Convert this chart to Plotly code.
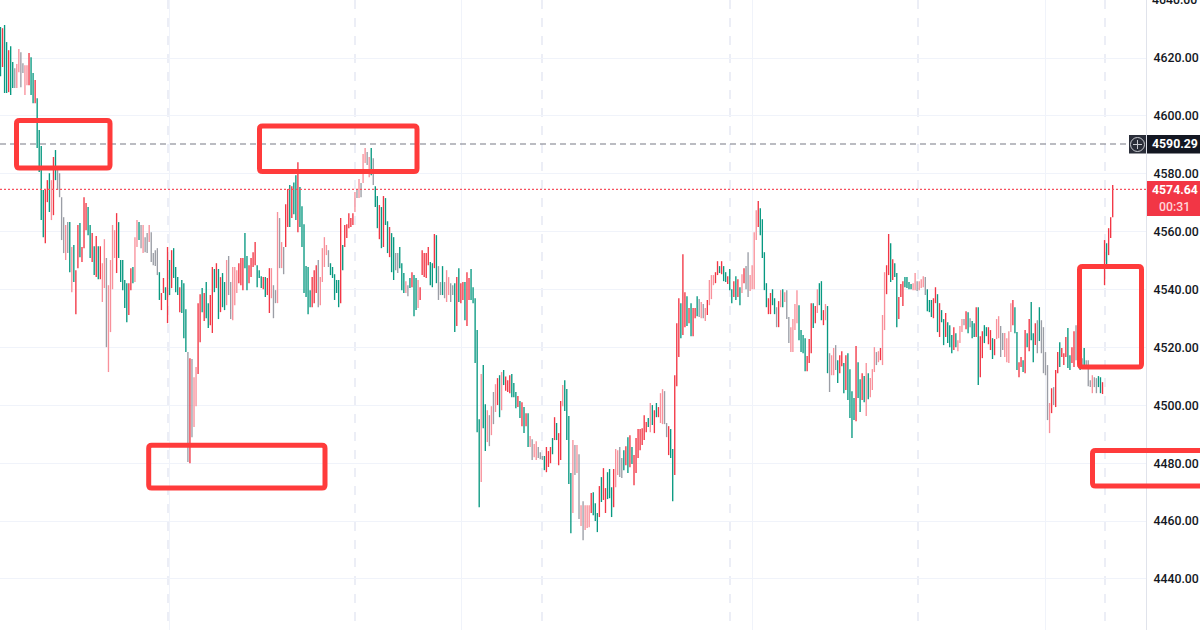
import plotly.graph_objects as go

# bar highs / lows, left to right, ten bars a line
highs = [
    4630.7, 4630.3, 4631.4, 4625.5, 4622.7, 4624.1, 4618.6, 4616.5, 4617.9, 4623.1,
    4622.0, 4618.2, 4617.5, 4617.5, 4621.7, 4620.3, 4614.8, 4612.4, 4606.1, 4595.1,
    4589.6, 4574.4, 4574.4, 4577.8, 4580.2, 4577.8, 4585.8, 4588.2, 4581.3, 4580.2,
    4571.9, 4565.0, 4562.3, 4563.3, 4563.3, 4554.7, 4555.4, 4546.7, 4562.3, 4563.0,
    4554.7, 4571.9, 4569.9, 4568.5, 4562.3, 4559.5, 4555.0, 4558.5, 4555.0, 4555.0,
    4549.1, 4557.4, 4550.9, 4541.5, 4550.2, 4562.3, 4560.5, 4566.4, 4563.3, 4550.2,
    4550.2, 4543.3, 4542.2, 4542.2, 4547.4, 4547.8, 4558.1, 4564.0, 4563.3, 4562.3,
    4562.3, 4558.1, 4559.5, 4562.3, 4559.8, 4552.6, 4553.6, 4554.3, 4546.0, 4538.8,
    4544.0, 4540.8, 4554.7, 4550.2, 4553.6, 4554.3, 4547.8, 4544.3, 4540.8, 4543.3,
    4542.2, 4533.2, 4518.4, 4516.3, 4516.0, 4509.7, 4513.2, 4535.3, 4538.4, 4540.5,
    4538.8, 4542.6, 4535.3, 4538.1, 4547.8, 4547.1, 4549.1, 4547.1, 4544.3, 4545.7,
    4542.6, 4550.2, 4551.6, 4542.6, 4547.8, 4547.8, 4546.7, 4549.1, 4550.9, 4550.9,
    4559.5, 4551.6, 4548.4, 4550.9, 4552.9, 4556.4, 4548.4, 4546.7, 4544.6, 4544.3,
    4544.3, 4544.0, 4547.4, 4547.4, 4541.5, 4539.8, 4566.8, 4564.7, 4556.4, 4554.7,
    4569.5, 4574.7, 4576.1, 4575.7, 4577.0, 4579.5, 4584.0, 4575.4, 4568.8, 4562.6, 4548.1,
    4547.8, 4539.8, 4544.3, 4546.7, 4548.4, 4550.2, 4544.3, 4554.3, 4558.1, 4555.4,
    4553.6, 4549.1, 4547.8, 4545.3, 4543.3, 4543.3, 4564.7, 4555.4, 4562.3, 4562.6,
    4566.4, 4564.7, 4566.4, 4573.7, 4574.4, 4578.2, 4576.8, 4586.8, 4588.9, 4587.5,
    4585.8, 4588.9, 4585.4, 4575.7, 4572.3, 4569.2, 4568.5, 4572.3, 4571.6, 4563.6,
    4561.6, 4559.5, 4558.1, 4552.6, 4552.6, 4554.7, 4549.1, 4545.7, 4542.9, 4541.5,
    4544.0, 4546.0, 4545.0, 4544.0, 4543.3, 4540.8, 4553.6, 4552.6, 4552.6, 4554.7,
    4549.5, 4549.1, 4559.2, 4558.8, 4548.1, 4542.6, 4548.1, 4542.6, 4546.7, 4544.3,
    4542.2, 4541.5, 4542.2, 4544.3, 4547.4, 4542.2, 4542.6, 4542.6, 4546.0, 4544.0,
    4547.1, 4540.8, 4537.0, 4526.0, 4495.2, 4510.8, 4513.9, 4500.4, 4498.3, 4496.6,
    4499.7, 4504.6, 4507.3, 4509.4, 4510.4, 4511.5, 4512.2, 4510.0, 4508.7, 4510.4, 4510.8,
    4507.7, 4504.6, 4503.2, 4501.5, 4501.1, 4499.4, 4497.3, 4497.3, 4489.4, 4488.3,
    4486.6, 4487.6, 4485.6, 4483.8, 4482.5, 4482.5, 4485.6, 4484.2, 4485.6, 4488.7,
    4495.9, 4493.9, 4490.4, 4501.5, 4507.0, 4508.7, 4505.6, 4496.3, 4476.6, 4488.0,
    4486.3, 4486.3, 4483.1, 4465.5, 4466.9, 4465.5, 4465.5, 4465.5, 4469.7, 4470.0,
    4466.2, 4462.8, 4472.1, 4475.2, 4478.3, 4471.4, 4476.9, 4478.0, 4471.7, 4478.0,
    4484.9, 4484.5, 4485.6, 4481.8, 4484.5, 4485.9, 4489.0, 4489.7, 4485.6, 4482.8,
    4488.7, 4491.8, 4491.8, 4492.1, 4496.6, 4494.2, 4495.6, 4500.8, 4500.1, 4498.3,
    4500.8, 4499.4, 4504.2, 4505.6, 4504.9, 4493.9, 4492.8, 4491.8, 4484.9, 4510.4,
    4528.4, 4537.0, 4535.3, 4552.2, 4539.1, 4537.7, 4533.6, 4535.3, 4533.6, 4533.6,
    4537.7, 4536.7, 4535.7, 4535.0, 4533.6, 4536.4, 4543.3, 4545.0, 4545.0, 4546.0,
    4549.8, 4548.1, 4549.8, 4548.1, 4546.0, 4544.6, 4547.1, 4540.1, 4542.9, 4544.6,
    4543.6, 4540.8, 4545.3, 4547.4, 4548.1, 4552.9, 4545.0, 4548.4, 4559.8, 4567.4,
    4570.6, 4568.1, 4564.3, 4552.9, 4542.2, 4537.0, 4538.8, 4540.1, 4537.0, 4533.9,
    4536.0, 4539.8, 4540.1, 4539.1, 4539.8, 4530.5, 4527.0, 4529.8, 4535.0, 4539.8,
    4534.6, 4526.0, 4524.3, 4523.2, 4517.0, 4522.9, 4535.3, 4535.3, 4534.3, 4540.1,
    4542.2, 4542.9, 4532.9, 4535.0, 4534.3, 4518.0, 4517.3, 4519.8, 4520.8, 4515.6,
    4517.3, 4518.7, 4514.6, 4517.3, 4518.0, 4512.5, 4504.9, 4502.5, 4520.5, 4514.9,
    4509.0, 4511.1, 4510.1, 4514.6, 4511.1, 4509.4, 4512.5, 4520.1, 4518.4, 4518.7,
    4519.8, 4531.2, 4546.0, 4548.4, 4559.2, 4556.0, 4550.5, 4549.1, 4545.7, 4537.4,
    4541.9, 4542.9, 4544.3, 4544.3, 4542.6, 4541.9, 4542.2, 4545.7, 4542.9, 4542.9,
    4543.6, 4544.6, 4544.3, 4540.1, 4536.4, 4536.4, 4537.0, 4540.8, 4538.4, 4535.3,
    4532.9, 4529.8, 4531.9, 4528.7, 4527.7, 4524.3, 4527.0, 4524.9, 4522.5, 4527.4,
    4529.8, 4529.8, 4532.5, 4532.2, 4530.1, 4529.1, 4528.4, 4533.9, 4533.9, 4523.9,
    4525.6, 4527.7, 4527.0, 4527.0, 4526.0, 4523.2, 4522.9, 4529.8, 4530.8, 4527.4,
    4525.0, 4525.0, 4523.2, 4525.6, 4535.3, 4536.4, 4533.9, 4525.3, 4514.9, 4516.7,
    4515.6, 4526.0, 4524.9, 4529.8, 4535.7, 4524.9, 4528.4, 4529.4, 4533.9, 4529.4,
    4527.0, 4518.4, 4513.9, 4500.8, 4505.9, 4506.3, 4512.2, 4518.4, 4521.8, 4519.8,
    4518.0, 4523.6, 4526.7, 4517.3, 4520.1, 4525.6, 4527.7, 4522.5, 4519.4, 4516.3,
    4519.8, 4515.6, 4515.6, 4508.7, 4510.4, 4509.7, 4509.4, 4510.1, 4509.7, 4508.0,
    4557.1, 4556.0, 4561.2, 4565.0, 4576.1,
]
lows = [
    4613.7, 4616.9, 4607.9, 4607.9, 4608.2, 4607.2, 4609.6, 4609.6, 4609.6, 4615.1,
    4609.9, 4614.8, 4607.2, 4610.6, 4610.6, 4607.2, 4604.4, 4604.4, 4588.9, 4580.6,
    4564.0, 4558.1, 4556.0, 4570.2, 4566.8, 4564.0, 4565.7, 4577.8, 4574.4, 4571.9,
    4557.1, 4552.6, 4550.2, 4552.6, 4546.0, 4539.1, 4542.6, 4531.5, 4547.4, 4551.2,
    4549.5, 4554.3, 4560.5, 4558.8, 4550.9, 4549.5, 4545.0, 4544.3, 4543.6, 4543.6,
    4535.7, 4540.5, 4520.1, 4511.5, 4525.3, 4540.1, 4550.9, 4545.7, 4550.9, 4542.6,
    4539.8, 4533.6, 4528.7, 4531.2, 4539.8, 4542.2, 4542.6, 4554.7, 4557.1, 4554.3,
    4552.6, 4552.9, 4552.6, 4556.4, 4549.5, 4548.4, 4548.1, 4545.0, 4536.4, 4532.9,
    4538.8, 4536.4, 4528.4, 4538.1, 4540.5, 4544.0, 4539.1, 4538.1, 4532.2, 4531.9,
    4523.2, 4518.4, 4480.4, 4480.0, 4489.0, 4492.5, 4499.7, 4510.8, 4521.8, 4532.2,
    4529.1, 4530.1, 4526.7, 4527.7, 4525.0, 4539.1, 4540.5, 4529.8, 4532.2, 4533.9,
    4532.9, 4534.6, 4538.1, 4529.8, 4529.4, 4534.6, 4538.8, 4542.2, 4541.5, 4539.8,
    4547.4, 4539.8, 4542.2, 4544.3, 4547.8, 4548.4, 4540.8, 4544.0, 4540.5, 4540.1,
    4537.4, 4538.1, 4531.9, 4537.0, 4530.1, 4535.3, 4535.3, 4547.4, 4547.4, 4545.3,
    4554.7, 4561.6, 4561.6, 4564.7, 4566.0, 4564.0, 4559.8, 4561.6, 4554.7, 4538.8, 4537.4,
    4531.5, 4533.9, 4533.9, 4535.3, 4538.8, 4533.9, 4534.6, 4542.6, 4547.8, 4551.9,
    4547.8, 4545.0, 4544.0, 4536.4, 4538.8, 4533.9, 4535.3, 4546.7, 4554.7, 4557.8,
    4561.2, 4561.6, 4562.3, 4566.8, 4571.6, 4571.6, 4571.9, 4576.8, 4583.7, 4583.0,
    4578.8, 4579.5, 4576.1, 4568.5, 4561.2, 4557.4, 4554.3, 4554.7, 4562.3, 4552.6,
    4551.2, 4546.0, 4543.3, 4546.7, 4545.7, 4547.4, 4539.8, 4538.8, 4538.8, 4537.7,
    4540.5, 4540.8, 4530.8, 4532.9, 4533.6, 4536.4, 4545.0, 4544.3, 4544.0, 4548.4,
    4541.5, 4540.8, 4547.4, 4542.2, 4536.4, 4538.1, 4538.1, 4537.0, 4535.7, 4538.1,
    4535.7, 4538.1, 4525.3, 4527.4, 4535.7, 4535.3, 4536.4, 4529.4, 4527.4, 4536.4,
    4536.4, 4535.3, 4514.6, 4490.7, 4464.8, 4473.5, 4492.1, 4484.2, 4487.3, 4485.9,
    4489.7, 4493.5, 4497.7, 4500.1, 4495.9, 4498.3, 4507.0, 4505.0, 4504.6, 4504.2, 4502.8,
    4502.8, 4499.0, 4499.4, 4495.6, 4492.8, 4490.4, 4492.8, 4485.6, 4485.6, 4481.1,
    4482.1, 4481.1, 4481.8, 4481.4, 4481.1, 4477.6, 4476.9, 4478.7, 4480.0, 4483.1,
    4488.0, 4488.0, 4479.3, 4481.1, 4499.7, 4498.0, 4488.0, 4472.8, 4455.8, 4462.8,
    4475.9, 4476.6, 4460.7, 4458.3, 4453.4, 4456.9, 4457.6, 4457.9, 4462.8, 4462.0,
    4460.0, 4456.2, 4461.4, 4466.6, 4467.3, 4462.8, 4467.6, 4467.9, 4461.4, 4464.8,
    4471.7, 4475.9, 4475.2, 4474.9, 4477.6, 4479.3, 4476.6, 4478.6, 4479.7, 4472.4,
    4476.6, 4481.8, 4484.5, 4486.3, 4488.0, 4490.7, 4492.5, 4490.7, 4493.2, 4490.4,
    4495.9, 4495.9, 4493.9, 4493.5, 4493.5, 4489.0, 4482.8, 4481.8, 4466.9, 4475.9,
    4506.6, 4516.7, 4523.2, 4524.3, 4527.0, 4527.4, 4528.4, 4523.9, 4523.9, 4530.1,
    4530.8, 4530.5, 4530.1, 4530.1, 4529.1, 4531.2, 4534.6, 4536.7, 4541.5, 4542.2,
    4545.0, 4545.7, 4545.3, 4542.9, 4542.6, 4541.9, 4539.8, 4535.3, 4537.4, 4536.4,
    4537.4, 4534.6, 4538.8, 4542.2, 4540.1, 4537.4, 4539.5, 4540.1, 4540.1, 4557.1,
    4561.6, 4558.8, 4550.9, 4539.8, 4533.9, 4531.5, 4531.5, 4534.6, 4531.5, 4527.0,
    4527.0, 4533.9, 4533.9, 4535.7, 4529.8, 4521.5, 4518.4, 4518.4, 4526.0, 4528.4,
    4522.5, 4518.4, 4518.0, 4511.8, 4511.8, 4514.6, 4518.0, 4526.7, 4528.4, 4531.9,
    4534.6, 4529.4, 4527.7, 4529.4, 4511.1, 4504.6, 4510.4, 4510.4, 4512.2, 4507.7,
    4511.1, 4513.5, 4504.2, 4505.3, 4501.8, 4495.6, 4488.7, 4494.9, 4494.5, 4502.5,
    4497.7, 4501.8, 4501.1, 4496.3, 4502.1, 4502.8, 4505.3, 4511.5, 4513.9, 4514.9,
    4515.6, 4513.9, 4526.0, 4538.4, 4545.0, 4542.6, 4543.3, 4544.3, 4527.0, 4529.8,
    4537.4, 4534.3, 4540.8, 4540.5, 4540.1, 4540.1, 4539.8, 4539.8, 4539.5, 4539.8,
    4540.5, 4540.8, 4538.1, 4532.5, 4532.2, 4530.5, 4530.1, 4535.3, 4525.3, 4523.6,
    4528.7, 4520.8, 4523.6, 4521.5, 4520.1, 4518.0, 4519.1, 4520.1, 4518.7, 4521.5,
    4525.3, 4527.7, 4526.3, 4524.9, 4527.0, 4523.2, 4523.6, 4523.6, 4507.0, 4509.7,
    4516.3, 4521.5, 4523.9, 4521.1, 4519.1, 4516.0, 4517.3, 4522.9, 4523.2, 4516.7,
    4519.1, 4516.7, 4514.9, 4514.6, 4525.3, 4527.7, 4524.9, 4512.2, 4509.7, 4513.2,
    4511.5, 4511.1, 4520.1, 4518.7, 4522.5, 4514.9, 4520.8, 4518.0, 4522.2, 4518.0,
    4511.1, 4510.4, 4494.9, 4490.4, 4497.3, 4500.1, 4499.4, 4511.1, 4513.2, 4516.7,
    4513.9, 4516.7, 4512.9, 4512.2, 4514.6, 4513.2, 4515.6, 4513.2, 4512.2, 4512.9,
    4512.9, 4512.9, 4506.6, 4506.3, 4504.2, 4506.3, 4504.2, 4506.3, 4504.2, 4503.9,
    4541.5, 4548.4, 4551.9, 4557.8, 4565.0,
]
# r up, g down, p and k are the smeared pink / grey bars
kinds = list(
    "grggrggkpp" "kkpprggrgg" "ggrrgprgkk" "kkpkgpgrrg" "rrrggrgrgr"
    "ppkpppprgg" "gggrrgppgk" "pkkpkkkkgr" "rgrgrgggrg" "ggkrkpprrg"
    "rggrrgrgrg" "gpkkppprrr" "ggrrrrgggr" "grrpkkpkpk" "rrgrggrgggg"
    "ggrrrkpppp" "kgggggrgrr" "rrrpkpkppk" "pgkggrgrgg" "rggkkgggpk"
    "grggprrrrr" "ggrgkkgkpp" "kkgrgrrgrr" "gggggpggpk" "pkprgpgrrrg"
    "ggrgrgrgpk" "ppkkkgrrrg" "rgrrpggggp" "kpkpkppprg" "ggrgrrgggr"
    "ppkkgrgrgr" "rrrrrrgpgr" "grppkkrggr" "rrgrrgrgrr" "gkpkprpppr"
    "rgrggrggrg" "rgprkkpppp" "rggggrrggk" "rpgpkkpppp" "ggggrrrgrp"
    "ggrpgkppkg" "rrgrggggrg" "grgpgpppkp" "rpprrgrggr" "rrggggppkp"
    "ppkgggrrgr" "ggrgggrgpp" "pkrgkggrgr" "rggrrgrppk" "kppppr" "ggrr"
    "grgrggrkgk" "kkkprkrrgr" "rrggrrkkgk" "gkkkpkkggr" "rgrrr"
)
price_ticks = [4440, 4460, 4480, 4500, 4520, 4540, 4560, 4580, 4600, 4620, 4640]
alert_price = 4590.29
last_price = 4574.64
countdown = "00:31"

kind_colors = {"r": "#f23645", "g": "#089981", "p": "#f8919b", "k": "#9b9ea6"}
PLOT_W = 1146
H = 630
BAR_PX = 2.037


def xp(px):
    return px / PLOT_W


def yp(py):
    return 1 - py / H


def to_bar(px):
    return (px - 0.5) / BAR_PX


def box_path(x0, y0, x1, y1, r=3):
    # rounded rectangle in paper coords, given in page pixels
    return (
        f"M {xp(x0 + r)} {yp(y0)} L {xp(x1 - r)} {yp(y0)} Q {xp(x1)} {yp(y0)} {xp(x1)} {yp(y0 + r)} "
        f"L {xp(x1)} {yp(y1 - r)} Q {xp(x1)} {yp(y1)} {xp(x1 - r)} {yp(y1)} "
        f"L {xp(x0 + r)} {yp(y1)} Q {xp(x0)} {yp(y1)} {xp(x0)} {yp(y1 - r)} "
        f"L {xp(x0)} {yp(y0 + r)} Q {xp(x0)} {yp(y0)} {xp(x0 + r)} {yp(y0)} Z"
    )


fig = go.Figure()

# one line trace per colour, each bar is a high-low segment
for kind, color in kind_colors.items():
    xs, ys = [], []
    for i, (h, l, k) in enumerate(zip(highs, lows, kinds)):
        if k == kind:
            xs += [i, i, None]
            ys += [l, h, None]
    fig.add_trace(go.Scatter(x=xs, y=ys, mode="lines", line={"color": color, "width": 1.35},
                             hoverinfo="skip", showlegend=False))

fig.update_layout(
    width=1200,
    height=H,
    margin={"l": 0, "r": 54, "t": 0, "b": 0, "pad": 0},
    paper_bgcolor="#ffffff",
    plot_bgcolor="#ffffff",
    xaxis={
        "range": [to_bar(0), to_bar(PLOT_W)],
        "showticklabels": False,
        "ticks": "",
        "zeroline": False,
        "tickmode": "array",
        "tickvals": [to_bar(p) for p in (168, 355, 542, 730, 918, 1105)],
        "showgrid": True,
        "gridcolor": "#eceef6",
        "griddash": "dash",
        "gridwidth": 1.5,
        "minor": {
            "tickmode": "array",
            "tickvals": [to_bar(p) for p in (169, 461, 752, 1045)],
            "showgrid": True,
            "gridcolor": "#f0f3fa",
            "griddash": "solid",
            "gridwidth": 1,
            "ticks": "",
        },
    },
    yaxis={
        "side": "right",
        "range": [4640.04 - H * 0.3455, 4640.04],
        "tickmode": "array",
        "tickvals": price_ticks,
        "tickformat": ".2f",
        "ticks": "",
        "ticklabelstandoff": 4,
        "tickfont": {"family": "Roboto", "size": 12.3, "color": "#131722", "weight": 500},
        "showgrid": True,
        "gridcolor": "#f0f3fa",
        "gridwidth": 1,
        "zeroline": False,
        "showline": True,
        "linecolor": "#e0e3eb",
        "linewidth": 1,
    },
)

# price lines
fig.add_shape(type="line", xref="paper", x0=0, x1=1, yref="y", y0=alert_price, y1=alert_price,
              line={"color": "#787b86", "width": 1.2, "dash": "6px,4px"}, layer="above")
fig.add_shape(type="line", xref="paper", x0=0, x1=1, yref="y", y0=last_price, y1=last_price,
              line={"color": "#f7525f", "width": 1.2, "dash": "2px,2px"}, layer="above")

# the red hand-drawn boxes
for bx in [(16.5, 120.5, 110, 168), (259.5, 126, 417, 171.5), (148.7, 445.3, 325, 488),
           (1079.5, 266.5, 1141.5, 367), (1092.5, 450.5, 1215, 486)]:
    fig.add_shape(type="path", xref="paper", yref="paper", path=box_path(*bx),
                  line={"color": "#ff3b3b", "width": 5}, layer="above")

# axis labels for the two price lines
for x0, y0, x1, y1, col in [(1129, 135, 1146, 153.5, "#2a2e39"), (1147, 135, 1200, 153.5, "#131722"),
                            (1147, 181, 1200, 197, "#f23645"), (1147, 197, 1200, 216, "#f23645")]:
    fig.add_shape(type="rect", xref="paper", yref="paper", x0=xp(x0), x1=xp(x1), y0=yp(y0), y1=yp(y1),
                  fillcolor=col, line={"width": 0}, layer="above")
fig.add_shape(type="circle", xref="paper", yref="paper", x0=xp(1130.5), x1=xp(1144.5), y0=yp(137.5), y1=yp(151.5),
              line={"color": "#c8cad0", "width": 1}, layer="above")
fig.add_shape(type="line", xref="paper", yref="paper", x0=xp(1133), x1=xp(1142), y0=yp(144.5), y1=yp(144.5),
              line={"color": "#c8cad0", "width": 1}, layer="above")
fig.add_shape(type="line", xref="paper", yref="paper", x0=xp(1137.5), x1=xp(1137.5), y0=yp(140), y1=yp(149),
              line={"color": "#c8cad0", "width": 1}, layer="above")

for txt, py, col, wt in [(f"{alert_price:.2f}", 144.5, "#ffffff", 700), (f"{last_price:.2f}", 189.5, "#ffffff", 700),
                         (countdown, 207, "#ffd5d9", 500)]:
    fig.add_annotation(text=txt, xref="paper", yref="paper", x=xp(1174.5), y=yp(py), showarrow=False,
                       xanchor="center", yanchor="middle",
                       font={"family": "Roboto", "size": 12.3, "color": col, "weight": wt})

# top axis label sits half off the page
fig.add_annotation(text=f"{price_ticks[-1]:.2f}", xref="paper", yref="y", x=xp(1174.5), y=price_ticks[-1],
                   showarrow=False, xanchor="center", yanchor="middle",
                   font={"family": "Roboto", "size": 12.3, "color": "#131722", "weight": 500})

fig.write_html("out.html", config={"displayModeBar": False},
               post_script="document.body.style.margin='0'")
